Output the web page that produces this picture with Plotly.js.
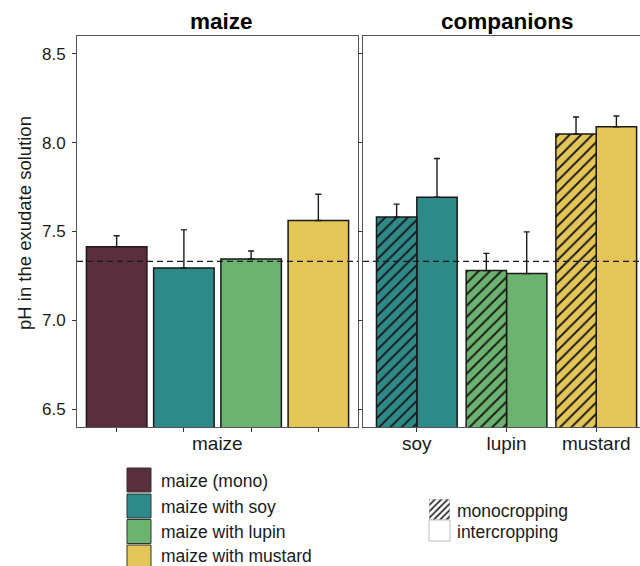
<!DOCTYPE html>
<html>
<head>
<meta charset="utf-8">
<script src="https://cdn.plot.ly/plotly-3.0.1.min.js"></script>
<style>
  html, body { margin: 0; padding: 0; background: #fff; }
  #chart { width: 640px; height: 566px; }
</style>
</head>
<body>
<div id="chart"></div>
<script>
// pH of the exudate solution, means with upper standard error
const maizeLabels = ["maize (mono)", "maize with soy", "maize with lupin", "maize with mustard"];
const maizePH = [7.414, 7.295, 7.345, 7.562];
const maizeSE = [0.062, 0.214, 0.045, 0.148];

const companions = ["soy", "lupin", "mustard"];
const monoPH  = [7.581, 7.280, 8.049];
const monoSE  = [0.073, 0.097, 0.095];
const interPH = [7.693, 7.263, 8.089];
const interSE = [0.218, 0.235, 0.061];

const referencePH = 7.332;   // pH of the initial solution (dashed line)

const fills = ["#5a2e3c", "#2e8a89", "#6bb36e", "#e4c658"];
const companionFills = fills.slice(1);
const ink = "#1a1a1a";
const frame = "#555555";
const FONT = "Liberation Sans, Arial, sans-serif";

// figure pixel -> paper fraction
const W = 640, H = 566;
const px = x => x / W;
const py = y => 1 - y / H;

const zeros = a => a.map(() => 0);
const upperErr = se => ({type: "data", symmetric: false, array: se, arrayminus: zeros(se),
  color: ink, thickness: 1.4, width: 3});

// diagonal hatching drawn over the bar fill
const hatch = (size, solidity) => ({shape: "/", fgcolor: ink, fgopacity: 1, size: size,
  solidity: solidity, fillmode: "overlay"});

const traces = [
  {
    type: "bar", xaxis: "x", yaxis: "y",
    x: maizeLabels.map((_, i) => i + 1), y: maizePH, width: 0.9,
    marker: {color: fills, line: {color: ink, width: 1.5}},
    error_y: upperErr(maizeSE),
    hovertext: maizeLabels, hoverinfo: "text+y", textposition: "none", showlegend: false
  },
  {
    type: "bar", xaxis: "x2", yaxis: "y2",
    x: companions.map((_, i) => i + 1), y: interPH, width: 0.45, offset: 0,
    marker: {color: companionFills, line: {color: ink, width: 1.5}},
    error_y: upperErr(interSE),
    hovertext: companions, hoverinfo: "text+y", textposition: "none", showlegend: false
  }
];

// monocropped companions: one trace per crop so each keeps black hatching
companions.forEach((name, i) => {
  traces.push({
    type: "bar", xaxis: "x2", yaxis: "y2",
    x: [i + 1], y: [monoPH[i]], width: 0.45, offset: -0.45,
    marker: {color: companionFills[i], line: {color: ink, width: 1.5}, pattern: hatch(8, 0.24)},
    error_y: upperErr([monoSE[i]]),
    hovertext: [name], hoverinfo: "text+y", textposition: "none", showlegend: false
  });
});

// hatched key of the cropping legend
traces.push({
  type: "bar", xaxis: "x3", yaxis: "y3",
  x: [0], y: [1], width: 1,
  marker: {color: "#ffffff", line: {color: "#bbbbbb", width: 1}, pattern: hatch(4.5, 0.35)},
  hoverinfo: "skip", textposition: "none", showlegend: false
});

const yTicks = [6.5, 7.0, 7.5, 8.0, 8.5];
const yDomain = [py(427), py(36)];
const yCommon = {
  domain: yDomain, range: [6.4, 8.6], tickvals: yTicks, ticktext: yTicks.map(v => v.toFixed(1)),
  ticks: "outside", ticklen: 4, tickwidth: 1, tickcolor: "#333", ticklabelstandoff: 3,
  showgrid: false, zeroline: false, showline: true, linecolor: frame, linewidth: 1,
  tickfont: {family: FONT, size: 17, color: ink}
};

const legendShapes = [];
const legendNotes = [];
const keyTops = [468, 494, 519.5, 545];
const noteCentres = [481, 506.5, 531.5, 556];
maizeLabels.forEach((lab, i) => {
  legendShapes.push({type: "rect", xref: "paper", yref: "paper",
    x0: px(127), x1: px(151), y0: py(keyTops[i] + 24), y1: py(keyTops[i]),
    fillcolor: fills[i], line: {color: "#333", width: 1}});
  legendNotes.push({xref: "paper", yref: "paper", x: px(159), y: py(noteCentres[i]),
    xanchor: "left", yanchor: "middle", showarrow: false, text: lab,
    font: {family: FONT, size: 17.5, color: ink}});
});
// plain key of the cropping legend
legendShapes.push({type: "rect", xref: "paper", yref: "paper",
  x0: px(429), x1: px(450), y0: py(541), y1: py(520),
  fillcolor: "#ffffff", line: {color: "#bbbbbb", width: 1}});
legendNotes.push({xref: "paper", yref: "paper", x: px(455), y: py(510.5),
  xanchor: "left", yanchor: "middle", showarrow: false, text: "monocropping",
  font: {family: FONT, size: 17.5, color: ink}});
legendNotes.push({xref: "paper", yref: "paper", x: px(455), y: py(531.5),
  xanchor: "left", yanchor: "middle", showarrow: false, text: "intercropping",
  font: {family: FONT, size: 17.5, color: ink}});

const layout = {
  width: W, height: H,
  margin: {l: 0, r: 0, t: 0, b: 0},
  paper_bgcolor: "#ffffff", plot_bgcolor: "#ffffff",
  barmode: "overlay",
  showlegend: false,
  xaxis: {
    domain: [px(77), px(358)], anchor: "y", range: [0.41, 4.59],
    tickvals: [1, 2, 3, 4], ticktext: ["", "", "", ""],
    ticks: "outside", ticklen: 4, tickwidth: 1, tickcolor: "#333",
    showgrid: false, zeroline: false, showline: true, mirror: true, linecolor: frame, linewidth: 1
  },
  yaxis: Object.assign({anchor: "x"}, yCommon, {mirror: true}),
  xaxis2: {
    domain: [px(363), 1], anchor: "y2", range: [0.4, 3.488],
    tickvals: [1, 2, 3], ticktext: companions,
    ticks: "outside", ticklen: 4, tickwidth: 1, tickcolor: "#333", ticklabelstandoff: -5,
    tickfont: {family: FONT, size: 19, color: ink},
    showgrid: false, zeroline: false, showline: true, mirror: true, linecolor: frame, linewidth: 1
  },
  yaxis2: Object.assign({anchor: "x2"}, yCommon, {showticklabels: false, mirror: false}),
  xaxis3: {domain: [px(429), px(450)], anchor: "y3", range: [-0.5, 0.5], visible: false, fixedrange: true},
  yaxis3: {domain: [py(520), py(499)], anchor: "x3", range: [0, 1], visible: false, fixedrange: true},
  shapes: [
    {type: "line", xref: "x domain", yref: "y", x0: 0, x1: 1, y0: referencePH, y1: referencePH,
      line: {color: ink, width: 1.3, dash: "6px,4px"}},
    {type: "line", xref: "x2 domain", yref: "y2", x0: 0, x1: 1, y0: referencePH, y1: referencePH,
      line: {color: ink, width: 1.3, dash: "6px,4px"}}
  ].concat(legendShapes),
  annotations: [
    {xref: "paper", yref: "paper", x: px(221), y: py(21), xanchor: "center", yanchor: "middle",
      showarrow: false, text: "<b>maize</b>", font: {family: FONT, size: 22.5, color: "#000"}},
    {xref: "paper", yref: "paper", x: px(507), y: py(21), xanchor: "center", yanchor: "middle",
      showarrow: false, text: "<b>companions</b>", font: {family: FONT, size: 22.5, color: "#000"}},
    {xref: "x", yref: "paper", x: 2.5, y: py(443), xanchor: "center", yanchor: "middle",
      showarrow: false, text: "maize", font: {family: FONT, size: 19, color: ink}},
    {xref: "paper", yref: "paper", x: px(24), y: py(223), xanchor: "center", yanchor: "middle",
      textangle: -90, showarrow: false, text: "pH in the exudate solution",
      font: {family: FONT, size: 18.5, color: ink}}
  ].concat(legendNotes)
};

Plotly.newPlot("chart", traces, layout, {staticPlot: true, displayModeBar: false});
</script>
</body>
</html>
